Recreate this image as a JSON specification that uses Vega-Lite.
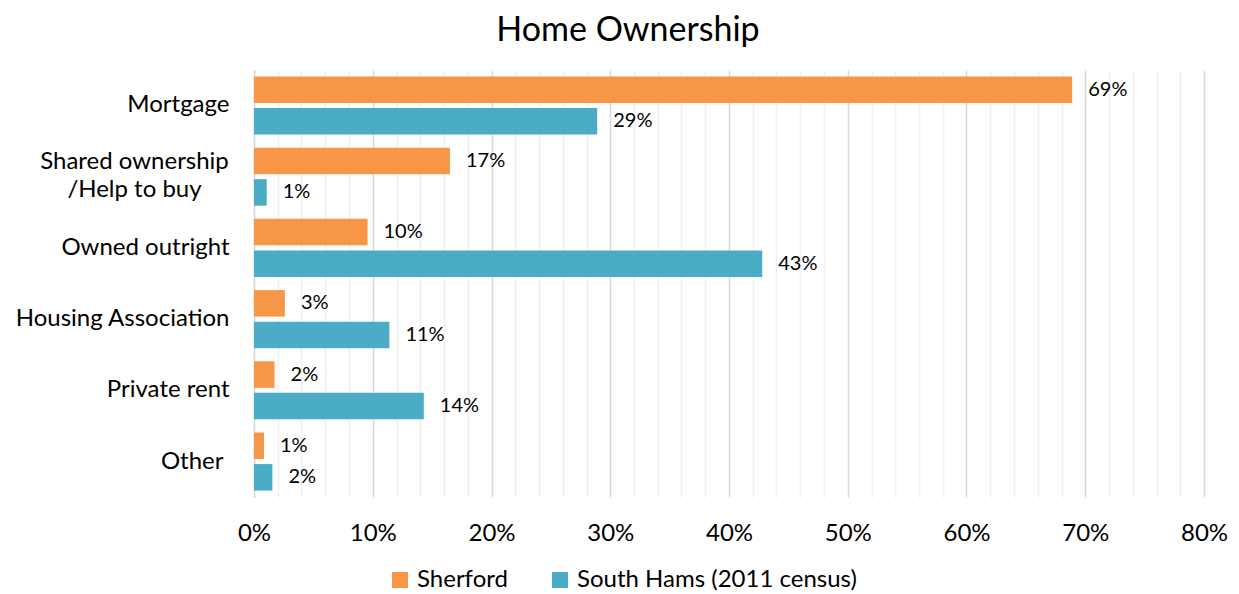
{
  "$schema": "https://vega.github.io/schema/vega-lite/v6.json",
  "width": 950,
  "height": 427,
  "autosize": {"type": "none"},
  "padding": {"left": 254, "top": 70, "right": 35, "bottom": 97},
  "background": "white",
  "config": {
    "view": {"stroke": null},
    "font": "Lato",
    "text": {"font": "Lato"}
  },
  "title": {
    "text": "Home Ownership",
    "font": "Lato",
    "fontSize": 34,
    "fontWeight": "normal",
    "color": "#000000",
    "anchor": "middle",
    "dx": -101,
    "offset": 22
  },
  "data": {
    "values": [
      {"category": "Mortgage", "series": "Sherford", "value": 0.689},
      {"category": "Mortgage", "series": "South Hams (2011 census)", "value": 0.289},
      {"category": "Shared ownership /Help to buy", "series": "Sherford", "value": 0.165},
      {"category": "Shared ownership /Help to buy", "series": "South Hams (2011 census)", "value": 0.0107},
      {"category": "Owned outright", "series": "Sherford", "value": 0.0956},
      {"category": "Owned outright", "series": "South Hams (2011 census)", "value": 0.428},
      {"category": "Housing Association", "series": "Sherford", "value": 0.026},
      {"category": "Housing Association", "series": "South Hams (2011 census)", "value": 0.114},
      {"category": "Private rent", "series": "Sherford", "value": 0.0173},
      {"category": "Private rent", "series": "South Hams (2011 census)", "value": 0.143},
      {"category": "Other", "series": "Sherford", "value": 0.0084},
      {"category": "Other", "series": "South Hams (2011 census)", "value": 0.0155}
    ]
  },
  "encoding": {
    "y": {
      "field": "category",
      "type": "nominal",
      "sort": null,
      "title": null,
      "scale": {"paddingInner": 0.185, "paddingOuter": 0.09},
      "axis": {
        "ticks": false,
        "domain": true,
        "domainColor": "#d9d9d9",
        "domainWidth": 1.5,
        "labelFont": "Lato",
        "labelFontSize": 24,
        "labelColor": "#000000",
        "labelAlign": {"condition": {"test": "datum.value == 'Shared ownership /Help to buy'", "value": "center"}, "value": "right"},
        "labelPadding": {"condition": [{"test": "datum.value == 'Shared ownership /Help to buy'", "value": 120}, {"test": "datum.value == 'Other'", "value": 31}], "value": 25},
        "labelOffset": {"condition": {"test": "datum.value == 'Shared ownership /Help to buy'", "value": -15}, "value": 0},
        "labelLineHeight": 28,
        "labelLimit": 300,
        "labelExpr": "datum.value == 'Shared ownership /Help to buy' ? ['Shared ownership', '/Help to buy'] : datum.value"
      }
    },
    "yOffset": {
      "field": "series",
      "type": "nominal",
      "sort": ["Sherford", "South Hams (2011 census)"],
      "scale": {"paddingInner": 0.16, "paddingOuter": 0}
    },
    "x": {
      "field": "value",
      "type": "quantitative",
      "scale": {"domain": [0, 0.8], "nice": false}
    }
  },
  "layer": [
    {
      "mark": {"type": "bar"},
      "encoding": {
        "x": {
          "field": "value",
          "type": "quantitative",
          "title": null,
          "axis": {
            "orient": "top",
            "values": [0.02, 0.04, 0.06, 0.08, 0.12, 0.14, 0.16, 0.18, 0.22, 0.24, 0.26, 0.28, 0.32, 0.34, 0.36, 0.38, 0.42, 0.44, 0.46, 0.48, 0.52, 0.54, 0.56, 0.58, 0.62, 0.64, 0.66, 0.68, 0.72, 0.74, 0.76, 0.78],
            "labels": false,
            "ticks": false,
            "domain": false,
            "grid": true,
            "gridColor": "#f0f0f0",
            "gridWidth": 1.5
          }
        },
        "color": {
          "field": "series",
          "type": "nominal",
          "sort": ["Sherford", "South Hams (2011 census)"],
          "scale": {"domain": ["Sherford", "South Hams (2011 census)"], "range": ["#F79646", "#4BACC6"]},
          "legend": {
            "title": null,
            "orient": "none",
            "direction": "horizontal",
            "legendX": 134,
            "legendY": 498,
            "padding": 0,
            "symbolType": "square",
            "symbolSize": 256,
            "symbolStrokeWidth": 0,
            "symbolOpacity": 1,
            "labelFont": "Lato",
            "labelFontSize": 24,
            "labelColor": "#000000",
            "labelOffset": 5,
            "columnPadding": 40,
            "labelLimit": 400
          }
        }
      }
    },
    {
      "mark": {"type": "text", "align": "left", "baseline": "middle", "dx": 16, "font": "Lato", "fontSize": 20, "color": "#000000"},
      "encoding": {
        "x": {
          "field": "value",
          "type": "quantitative",
          "title": null,
          "axis": {
            "orient": "bottom",
            "values": [0, 0.1, 0.2, 0.3, 0.4, 0.5, 0.6, 0.7, 0.8],
            "format": ".0%",
            "labels": true,
            "labelFlush": false,
            "ticks": false,
            "domain": false,
            "grid": true,
            "gridColor": "#d9d9d9",
            "gridWidth": 1.5,
            "labelFont": "Lato",
            "labelFontSize": 24,
            "labelColor": "#000000",
            "labelPadding": 24
          }
        },
        "text": {"field": "value", "type": "quantitative", "format": ".0%"}
      }
    }
  ],
  "resolve": {"axis": {"x": "independent"}}
}
